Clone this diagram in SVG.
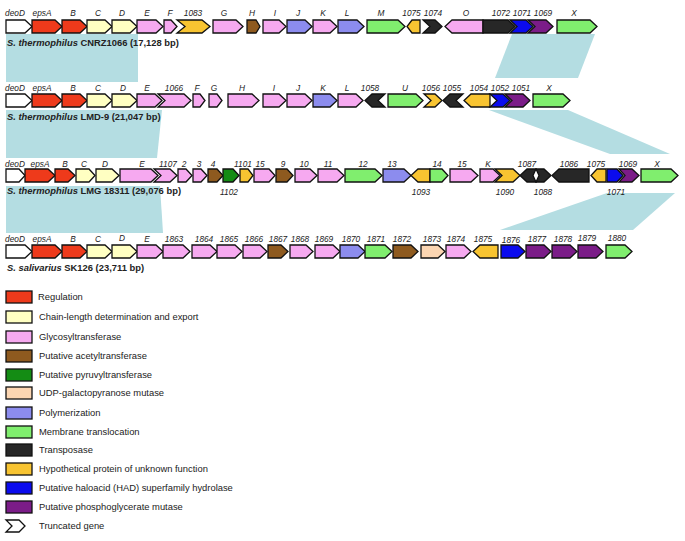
<svg xmlns="http://www.w3.org/2000/svg" width="685" height="541" viewBox="0 0 685 541">
<style>
.g{stroke:#111;stroke-width:1.3;stroke-linejoin:miter}
.wht{fill:#fff}.reg{fill:#EE3A1B}.chn{fill:#FFFFC2}.gly{fill:#F6A9F0}.ace{fill:#8E5A1F}.pyr{fill:#148C14}
.udp{fill:#FCD6B2}.pol{fill:#8C8CEE}.mem{fill:#80EE6E}.tra{fill:#272727}.hyp{fill:#F8C431}.had{fill:#0B0BEE}.pgm{fill:#7B1C88}
.band{fill:#B4DDE2}
.lb{font-family:"Liberation Sans",Arial,sans-serif;font-style:italic;font-size:8.3px;text-anchor:middle;fill:#222}
.sp{font-family:"Liberation Sans",Arial,sans-serif;font-weight:bold;font-size:9.4px;fill:#222}
.lg{font-family:"Liberation Sans",Arial,sans-serif;font-size:9.4px;fill:#222}
</style>
<rect width="685" height="541" fill="#fff"/>
<g id="connectors">
<rect class="band" x="6" y="34" width="132" height="48"/>
<polygon class="band" points="512,34 595,34 578,78 495,78"/>
<polygon class="band" points="6,110 162,110 157,158 6,158"/>
<polygon class="band" points="489,110 568,110 670,154 610,154"/>
<polygon class="band" points="6,186 160,186 163,233 6,233"/>
<polygon class="band" points="607,193 675,193 633,230 500,230"/>
</g>
<g id="row1">
<g id="r1-deoD"><polygon class="g wht" points="6,20 25,20 32,26.5 25,33 6,33"/><text class="lb" x="15" y="16">deoD</text></g>
<g id="r1-epsA"><polygon class="g reg" points="32,20 55,20 62,26.5 55,33 32,33"/><text class="lb" x="42" y="16">epsA</text></g>
<g id="r1-B"><polygon class="g reg" points="62,20 80,20 87,26.5 80,33 62,33"/><text class="lb" x="73" y="16">B</text></g>
<g id="r1-C"><polygon class="g chn" points="87,20 105,20 112,26.5 105,33 87,33"/><text class="lb" x="98" y="16">C</text></g>
<g id="r1-D"><polygon class="g chn" points="112,20 130,20 137,26.5 130,33 112,33"/><text class="lb" x="122" y="16">D</text></g>
<g id="r1-E"><polygon class="g gly" points="137,20 156,20 163,26.5 156,33 137,33"/><text class="lb" x="147" y="16">E</text></g>
<g id="r1-F"><polygon class="g gly" points="164,20 171,20 177,26.5 171,33 164,33"/><text class="lb" x="170" y="16">F</text></g>
<g id="r1-1083"><polygon class="g hyp" points="177,20 202,20 210,26.5 202,33 177,33 185,26.5"/><text class="lb" x="193" y="16">1083</text></g>
<g id="r1-G"><polygon class="g gly" points="213,20 236,20 243,26.5 236,33 213,33"/><text class="lb" x="224" y="16">G</text></g>
<g id="r1-H"><polygon class="g ace" points="247,20 256,20 260,26.5 256,33 247,33"/><text class="lb" x="252" y="16">H</text></g>
<g id="r1-I"><polygon class="g gly" points="263,20 279,20 286,26.5 279,33 263,33"/><text class="lb" x="275" y="16">I</text></g>
<g id="r1-J"><polygon class="g pol" points="287,20 305,20 312,26.5 305,33 287,33"/><text class="lb" x="298" y="16">J</text></g>
<g id="r1-K"><polygon class="g gly" points="313,20 330,20 337,26.5 330,33 313,33"/><text class="lb" x="323" y="16">K</text></g>
<g id="r1-L"><polygon class="g pol" points="338,20 357,20 364,26.5 357,33 338,33"/><text class="lb" x="347" y="16">L</text></g>
<g id="r1-M"><polygon class="g mem" points="367,20 398,20 405,26.5 398,33 367,33"/><text class="lb" x="381" y="16">M</text></g>
<g id="r1-1075"><polygon class="g hyp" points="412,20 420,20 420,33 412,33 407,26.5"/><text class="lb" x="411.5" y="16">1075</text></g>
<g id="r1-1074"><polygon class="g tra" points="423,20 435,20 442,26.5 435,33 423,33 430,26.5"/><text class="lb" x="433" y="16">1074</text></g>
<g id="r1-O"><polygon class="g gly" points="452,20 483,20 483,33 452,33 445,26.5"/><text class="lb" x="466" y="16">O</text></g>
<g id="r1-1072"><polygon class="g tra" points="483,20 508,20 515,26.5 508,33 483,33"/><text class="lb" x="501" y="16">1072</text></g>
<g id="r1-1071"><polygon class="g had" points="510,20 526,20 533,26.5 526,33 510,33 517,26.5"/><text class="lb" x="522" y="16">1071</text></g>
<g id="r1-1069"><polygon class="g pgm" points="528,20 546,20 553,26.5 546,33 528,33 535,26.5"/><text class="lb" x="543" y="16">1069</text></g>
<g id="r1-X"><polygon class="g mem" points="557,20 590,20 597,26.5 590,33 557,33"/><text class="lb" x="574" y="16">X</text></g>
<text class="sp" x="7" y="46"><tspan font-style="italic">S. thermophilus</tspan> CNRZ1066 (17,128 bp)</text>
</g>
<g id="row2">
<g id="r2-deoD"><polygon class="g wht" points="6,94 25,94 32,100.5 25,107 6,107"/><text class="lb" x="15" y="91">deoD</text></g>
<g id="r2-epsA"><polygon class="g reg" points="32,94 55,94 62,100.5 55,107 32,107"/><text class="lb" x="42" y="91">epsA</text></g>
<g id="r2-B"><polygon class="g reg" points="62,94 80,94 87,100.5 80,107 62,107"/><text class="lb" x="73" y="91">B</text></g>
<g id="r2-C"><polygon class="g chn" points="87,94 105,94 112,100.5 105,107 87,107"/><text class="lb" x="98" y="91">C</text></g>
<g id="r2-D"><polygon class="g chn" points="112,94 130,94 137,100.5 130,107 112,107"/><text class="lb" x="123" y="91">D</text></g>
<g id="r2-E"><polygon class="g gly" points="137,94 155,94 162,100.5 155,107 137,107"/><text class="lb" x="147" y="91">E</text></g>
<g id="r2-1066"><polygon class="g gly" points="158,94 184,94 191,100.5 184,107 158,107 165,100.5"/><text class="lb" x="174" y="91">1066</text></g>
<g id="r2-F"><polygon class="g gly" points="193,94 200,94 205,100.5 200,107 193,107"/><text class="lb" x="197" y="91">F</text></g>
<g id="r2-G"><polygon class="g gly" points="209,94 217,94 222,100.5 217,107 209,107"/><text class="lb" x="214" y="91">G</text></g>
<g id="r2-H"><polygon class="g gly" points="228,94 252,94 259,100.5 252,107 228,107"/><text class="lb" x="242" y="91">H</text></g>
<g id="r2-I"><polygon class="g gly" points="263,94 279,94 286,100.5 279,107 263,107"/><text class="lb" x="274" y="91">I</text></g>
<g id="r2-J"><polygon class="g gly" points="287,94 305,94 312,100.5 305,107 287,107"/><text class="lb" x="298" y="91">J</text></g>
<g id="r2-K"><polygon class="g pol" points="313,94 330,94 337,100.5 330,107 313,107"/><text class="lb" x="323" y="91">K</text></g>
<g id="r2-L"><polygon class="g gly" points="338,94 356,94 363,100.5 356,107 338,107"/><text class="lb" x="347" y="91">L</text></g>
<g id="r2-1058"><polygon class="g tra" points="372,94 385,94 378,100.5 385,107 372,107 365,100.5"/><text class="lb" x="370" y="91">1058</text></g>
<g id="r2-U"><polygon class="g mem" points="388,94 416,94 423,100.5 416,107 388,107"/><text class="lb" x="405" y="91">U</text></g>
<g id="r2-1056"><polygon class="g hyp" points="424,94 435,94 442,100.5 435,107 424,107 431,100.5"/><text class="lb" x="431" y="91">1056</text></g>
<g id="r2-1055"><polygon class="g tra" points="450,94 463,94 456,100.5 463,107 450,107 443,100.5"/><text class="lb" x="452" y="91">1055</text></g>
<g id="r2-1054"><polygon class="g hyp" points="471,94 490,94 490,107 471,107 464,100.5"/><text class="lb" x="479" y="91">1054</text></g>
<g id="r2-1052"><polygon class="g had" points="490,94 503,94 510,100.5 503,107 490,107 497,100.5"/><text class="lb" x="500" y="91">1052</text></g>
<g id="r2-1051"><polygon class="g pgm" points="505,94 523,94 530,100.5 523,107 505,107 512,100.5"/><text class="lb" x="521" y="91">1051</text></g>
<g id="r2-X"><polygon class="g mem" points="533,94 563,94 570,100.5 563,107 533,107"/><text class="lb" x="549" y="91">X</text></g>
<text class="sp" x="7" y="120"><tspan font-style="italic">S. thermophilus</tspan> LMD-9 (21,047 bp)</text>
</g>
<g id="row3">
<g id="r3-deoD"><polygon class="g wht" points="6,169 19,169 25,175.5 19,182 6,182"/><text class="lb" x="15" y="167">deoD</text></g>
<g id="r3-epsA"><polygon class="g reg" points="25,169 48,169 55,175.5 48,182 25,182"/><text class="lb" x="40" y="167">epsA</text></g>
<g id="r3-B"><polygon class="g reg" points="55,169 68,169 75,175.5 68,182 55,182"/><text class="lb" x="65" y="167">B</text></g>
<g id="r3-C"><polygon class="g chn" points="76,169 89,169 95,175.5 89,182 76,182"/><text class="lb" x="84" y="167">C</text></g>
<g id="r3-D"><polygon class="g chn" points="96,169 112,169 119,175.5 112,182 96,182"/><text class="lb" x="105" y="167">D</text></g>
<g id="r3-E"><polygon class="g gly" points="120,169 151,169 158,175.5 151,182 120,182"/><text class="lb" x="142" y="167">E</text></g>
<g id="r3-1107"><polygon class="g gly" points="154,169 170,169 177,175.5 170,182 154,182 161,175.5"/><text class="lb" x="168" y="167">1107</text></g>
<g id="r3-2"><polygon class="g gly" points="178,169 186,169 192,175.5 186,182 178,182"/><text class="lb" x="184" y="167">2</text></g>
<g id="r3-3"><polygon class="g gly" points="193,169 201,169 207,175.5 201,182 193,182"/><text class="lb" x="199" y="167">3</text></g>
<g id="r3-4"><polygon class="g ace" points="208,169 217,169 223,175.5 217,182 208,182"/><text class="lb" x="213" y="167">4</text></g>
<g id="r3-1102"><polygon class="g pyr" points="223,169 233,169 239,175.5 233,182 223,182"/><text class="lb" x="229" y="195">1102</text></g>
<g id="r3-1101"><polygon class="g hyp" points="240,169 248,169 253,175.5 248,182 240,182"/><text class="lb" x="243" y="167">1101</text></g>
<g id="r3-15a"><polygon class="g gly" points="254,169 269,169 275,175.5 269,182 254,182"/><text class="lb" x="260" y="167">15</text></g>
<g id="r3-9"><polygon class="g ace" points="276,169 287,169 293,175.5 287,182 276,182"/><text class="lb" x="283" y="167">9</text></g>
<g id="r3-10"><polygon class="g gly" points="295,169 310,169 317,175.5 310,182 295,182"/><text class="lb" x="304" y="167">10</text></g>
<g id="r3-11"><polygon class="g gly" points="318,169 337,169 344,175.5 337,182 318,182"/><text class="lb" x="328" y="167">11</text></g>
<g id="r3-12"><polygon class="g mem" points="345,169 375,169 382,175.5 375,182 345,182"/><text class="lb" x="363" y="167">12</text></g>
<g id="r3-13"><polygon class="g pol" points="383,169 404,169 411,175.5 404,182 383,182"/><text class="lb" x="392" y="167">13</text></g>
<g id="r3-1093"><polygon class="g hyp" points="418,169 430,169 430,182 418,182 411,175.5"/><text class="lb" x="421" y="195">1093</text></g>
<g id="r3-14"><polygon class="g mem" points="430,169 442,169 448,175.5 442,182 430,182"/><text class="lb" x="437" y="167">14</text></g>
<g id="r3-15b"><polygon class="g gly" points="450,169 471,169 478,175.5 471,182 450,182"/><text class="lb" x="462" y="167">15</text></g>
<g id="r3-K"><polygon class="g gly" points="480,169 493,169 500,175.5 493,182 480,182"/><text class="lb" x="488" y="167">K</text></g>
<g id="r3-1090"><polygon class="g hyp" points="495,169 513,169 520,175.5 513,182 495,182 502,175.5"/><text class="lb" x="505" y="195">1090</text></g>
<g id="r3-1087"><polygon class="g tra" points="527,169 536,169 533,175.5 536,182 527,182 520,175.5"/><text class="lb" x="527" y="167">1087</text></g>
<g id="r3-1088"><polygon class="g tra" points="536,169 544,169 551,175.5 544,182 536,182 539,175.5"/><text class="lb" x="543" y="195">1088</text></g>
<g id="r3-1086"><polygon class="g tra" points="559,169 589,169 589,182 559,182 552,175.5"/><text class="lb" x="569" y="167">1086</text></g>
<g id="r3-1075"><polygon class="g hyp" points="597,169 606,169 606,182 597,182 591,175.5"/><text class="lb" x="596" y="167">1075</text></g>
<g id="r3-1071"><polygon class="g had" points="607,169 617,169 623,175.5 617,182 607,182"/><text class="lb" x="616" y="195">1071</text></g>
<g id="r3-1069"><polygon class="g pgm" points="619,169 632,169 639,175.5 632,182 619,182 625,175.5"/><text class="lb" x="628" y="167">1069</text></g>
<g id="r3-X"><polygon class="g mem" points="641,169 671,169 678,175.5 671,182 641,182"/><text class="lb" x="657" y="167">X</text></g>
<text class="sp" x="7" y="194"><tspan font-style="italic">S. thermophilus</tspan> LMG 18311 (29,076 bp)</text>
</g>
<g id="row4">
<g id="r4-deoD"><polygon class="g wht" points="6,245 25,245 32,251.5 25,258 6,258"/><text class="lb" x="15" y="242">deoD</text></g>
<g id="r4-epsA"><polygon class="g reg" points="32,245 55,245 62,251.5 55,258 32,258"/><text class="lb" x="42" y="242">epsA</text></g>
<g id="r4-B"><polygon class="g reg" points="62,245 80,245 87,251.5 80,258 62,258"/><text class="lb" x="73" y="242">B</text></g>
<g id="r4-C"><polygon class="g chn" points="87,245 105,245 112,251.5 105,258 87,258"/><text class="lb" x="98" y="242">C</text></g>
<g id="r4-D"><polygon class="g chn" points="112,245 130,245 137,251.5 130,258 112,258"/><text class="lb" x="122" y="241">D</text></g>
<g id="r4-E"><polygon class="g gly" points="137,245 156,245 163,251.5 156,258 137,258"/><text class="lb" x="147" y="242">E</text></g>
<g id="r4-1863"><polygon class="g gly" points="163,245 183,245 190,251.5 183,258 163,258"/><text class="lb" x="174" y="242">1863</text></g>
<g id="r4-1864"><polygon class="g gly" points="192,245 210,245 217,251.5 210,258 192,258"/><text class="lb" x="204" y="242">1864</text></g>
<g id="r4-1865"><polygon class="g gly" points="217,245 235,245 242,251.5 235,258 217,258"/><text class="lb" x="229" y="242">1865</text></g>
<g id="r4-1866"><polygon class="g gly" points="243,245 260,245 267,251.5 260,258 243,258"/><text class="lb" x="254" y="242">1866</text></g>
<g id="r4-1867"><polygon class="g ace" points="268,245 281,245 288,251.5 281,258 268,258"/><text class="lb" x="278" y="242">1867</text></g>
<g id="r4-1868"><polygon class="g gly" points="290,245 306,245 313,251.5 306,258 290,258"/><text class="lb" x="300" y="242">1868</text></g>
<g id="r4-1869"><polygon class="g gly" points="315,245 333,245 340,251.5 333,258 315,258"/><text class="lb" x="324" y="242">1869</text></g>
<g id="r4-1870"><polygon class="g pol" points="340,245 358,245 365,251.5 358,258 340,258"/><text class="lb" x="351" y="242">1870</text></g>
<g id="r4-1871"><polygon class="g mem" points="365,245 385,245 392,251.5 385,258 365,258"/><text class="lb" x="376" y="242">1871</text></g>
<g id="r4-1872"><polygon class="g ace" points="393,245 411,245 418,251.5 411,258 393,258"/><text class="lb" x="402" y="242">1872</text></g>
<g id="r4-1873"><polygon class="g udp" points="421,245 438,245 445,251.5 438,258 421,258"/><text class="lb" x="432" y="242">1873</text></g>
<g id="r4-1874"><polygon class="g gly" points="446,245 464,245 471,251.5 464,258 446,258"/><text class="lb" x="456" y="242">1874</text></g>
<g id="r4-1875"><polygon class="g hyp" points="480,245 498,245 498,258 480,258 473,251.5"/><text class="lb" x="483" y="242">1875</text></g>
<g id="r4-1876"><polygon class="g had" points="501,245 518,245 525,251.5 518,258 501,258"/><text class="lb" x="511" y="243">1876</text></g>
<g id="r4-1877"><polygon class="g pgm" points="526,245 544,245 551,251.5 544,258 526,258"/><text class="lb" x="537" y="242">1877</text></g>
<g id="r4-1878"><polygon class="g pgm" points="552,245 570,245 577,251.5 570,258 552,258"/><text class="lb" x="563" y="242">1878</text></g>
<g id="r4-1879"><polygon class="g pgm" points="578,245 596,245 603,251.5 596,258 578,258"/><text class="lb" x="587" y="241">1879</text></g>
<g id="r4-1880"><polygon class="g mem" points="606,245 625,245 632,251.5 625,258 606,258"/><text class="lb" x="617" y="241">1880</text></g>
<text class="sp" x="7" y="271"><tspan font-style="italic">S. salivarius</tspan> SK126 (23,711 bp)</text>
</g>
<g id="legend">
<g id="lg-reg"><rect class="g reg" x="6" y="291" width="26" height="12"/><text class="lg" x="38" y="300.3">Regulation</text></g>
<g id="lg-chn"><rect class="g chn" x="6" y="311" width="26" height="12"/><text class="lg" x="39" y="320.3">Chain-length determination and export</text></g>
<g id="lg-gly"><rect class="g gly" x="6" y="331" width="26" height="12"/><text class="lg" x="39" y="340.3">Glycosyltransferase</text></g>
<g id="lg-ace"><rect class="g ace" x="6" y="350" width="26" height="12"/><text class="lg" x="39" y="359.3">Putative acetyltransferase</text></g>
<g id="lg-pyr"><rect class="g pyr" x="6" y="369" width="26" height="12"/><text class="lg" x="39" y="378.3">Putative pyruvyltransferase</text></g>
<g id="lg-udp"><rect class="g udp" x="6" y="387" width="26" height="12"/><text class="lg" x="39" y="396.3">UDP-galactopyranose mutase</text></g>
<g id="lg-pol"><rect class="g pol" x="6" y="407" width="26" height="12"/><text class="lg" x="39" y="416.3">Polymerization</text></g>
<g id="lg-mem"><rect class="g mem" x="6" y="426" width="26" height="12"/><text class="lg" x="39" y="435.3">Membrane translocation</text></g>
<g id="lg-tra"><rect class="g tra" x="6" y="444" width="26" height="12"/><text class="lg" x="39" y="453.3">Transposase</text></g>
<g id="lg-hyp"><rect class="g hyp" x="6" y="463" width="26" height="12"/><text class="lg" x="39" y="472.3">Hypothetical protein of unknown function</text></g>
<g id="lg-had"><rect class="g had" x="6" y="482" width="26" height="12"/><text class="lg" x="39" y="491.3">Putative haloacid (HAD) superfamily hydrolase</text></g>
<g id="lg-pgm"><rect class="g pgm" x="6" y="501" width="26" height="12"/><text class="lg" x="39" y="510.3">Putative phosphoglycerate mutase</text></g>
<g id="lg-trunc"><polygon class="g wht" points="6,520 19,520 25,526 19,532 6,532 12,526"/><text class="lg" x="39" y="529.3">Truncated gene</text></g>
</g>
</svg>
